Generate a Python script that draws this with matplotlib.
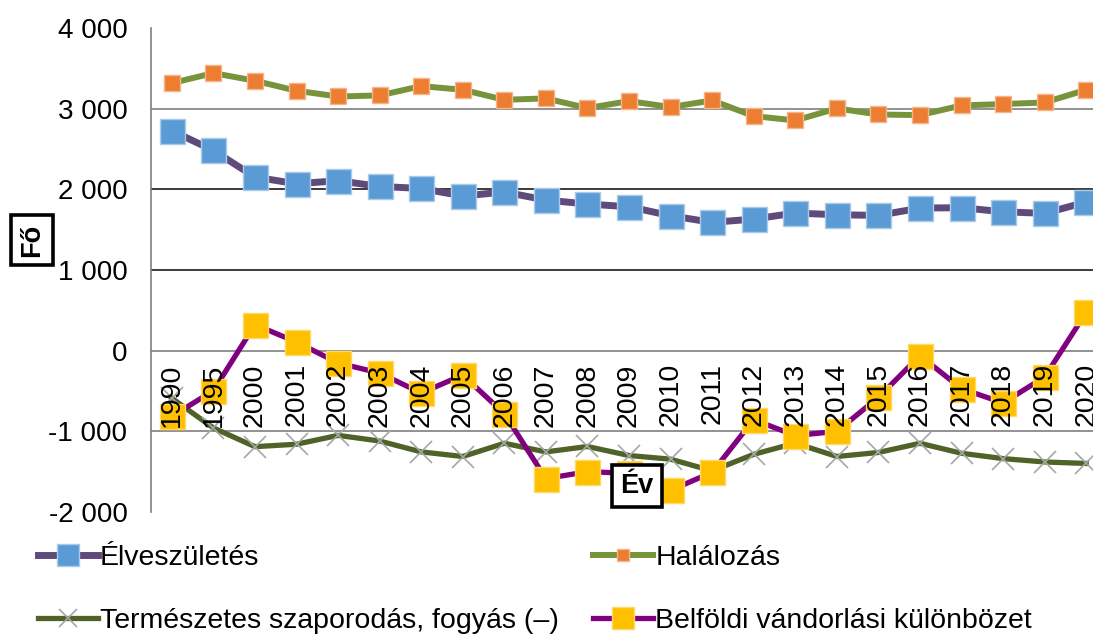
import matplotlib
matplotlib.use("Agg")
import matplotlib.pyplot as plt
from matplotlib.ticker import FuncFormatter

years = ['1990', '1995', '2000', '2001', '2002', '2003', '2004', '2005', '2006',
         '2007', '2008', '2009', '2010', '2011', '2012', '2013', '2014', '2015',
         '2016', '2017', '2018', '2019', '2020']

elveszuletes = [2726, 2482, 2152, 2069, 2107, 2036, 2011, 1917, 1967, 1867, 1818, 1784,
                1673, 1590, 1632, 1706, 1685, 1677, 1768, 1772, 1722, 1702, 1843]
halalozas = [3317, 3441, 3346, 3222, 3151, 3164, 3280, 3234, 3110, 3127, 3007, 3094,
             3020, 3102, 2908, 2854, 3003, 2928, 2920, 3040, 3057, 3077, 3234]
termeszetes = [-590, -958, -1190, -1160, -1050, -1120, -1255, -1312, -1148, -1255, -1188, -1300,
               -1345, -1490, -1285, -1146, -1312, -1262, -1148, -1272, -1338, -1380, -1398]
belfoldi = [-814, -496, 322, 107, -153, -277, -525, -302, -781, -1586, -1500, -1520,
            -1731, -1508, -855, -1053, -1000, -579, -62, -471, -648, -326, 475]

plt.rcParams['font.family'] = ['Liberation Sans', 'DejaVu Sans']
FS = 20.5

fig = plt.figure(figsize=(10.93, 6.35), dpi=100)
ax = fig.add_axes([0.1382, 0.1937, 0.8746, 0.7622])

x = range(len(years))
l1, = ax.plot(x, elveszuletes, color='#604A7B', lw=5, marker='s', ms=18,
              mfc='#5B9BD5', mec='#A9CBEA', mew=1, label='Élveszületés', zorder=3)
l2, = ax.plot(x, halalozas, color='#77933C', lw=4.3, marker='s', ms=11,
              mfc='#ED7D31', mec='#F5B58A', mew=1, label='Halálozás', zorder=3)
l3, = ax.plot(x, termeszetes, color='#4F6228', lw=3.8, marker='x', ms=16,
              mfc='#A6A6A6', mec='#A6A6A6', mew=1.2,
              label='Természetes szaporodás, fogyás (–)', zorder=3)
l4, = ax.plot(x, belfoldi, color='#800080', lw=3.8, marker='s', ms=18,
              mfc='#FFC000', mec='#FFD966', mew=1, label='Belföldi vándorlási különbözet', zorder=3)

ax.set_xlim(-0.5, len(years) - 0.5)
ax.set_ylim(-2000, 4000)
ax.set_yticks([-2000, -1000, 0, 1000, 2000, 3000, 4000])
ax.yaxis.set_major_formatter(FuncFormatter(lambda v, p: f"{v:,.0f}".replace(",", " ")))
ax.tick_params(axis='y', length=0, pad=17, labelsize=FS - 0.5)
ax.set_xticks([])

ax.yaxis.grid(True, color='#7f7f7f', lw=1.2)
ax.set_axisbelow(True)
for val, gl in zip(ax.get_yticks(), ax.get_ygridlines()):
    if val in (-2000, 4000):
        gl.set_visible(False)
    elif val in (1000, 2000):
        gl.set_color('#1a1a1a')

for s in ['top', 'right', 'bottom']:
    ax.spines[s].set_visible(False)
ax.spines['left'].set_color('#7f7f7f')
ax.spines['left'].set_linewidth(1.2)

for i, lab in enumerate(years):
    ax.annotate(lab, (i, 0), xytext=(0, -9), textcoords='offset points',
                rotation=90, ha='center', va='top', fontsize=FS, zorder=6)

fig.text(0.0293, 0.622, 'Fő', rotation=90, ha='center', va='center', fontsize=FS - 1,
         fontweight='bold', bbox=dict(boxstyle='square,pad=0.3', fc='white', ec='black', lw=2.6))
fig.text(0.5828, 0.2346, 'Év', ha='center', va='center', fontsize=FS - 1, fontweight='bold',
         bbox=dict(boxstyle='square,pad=0.3', fc='white', ec='black', lw=2.6), zorder=10)

fig.legend(handles=[l1, l3, l2, l4], ncol=2, loc='upper left',
           bbox_to_anchor=(0.0348, 0.141), frameon=False, fontsize=FS,
           handlelength=2.1, handletextpad=0.08, columnspacing=1.2,
           labelspacing=1.27, borderpad=0, borderaxespad=0, markerscale=0.85)

fig.savefig('out.png', dpi=100)
